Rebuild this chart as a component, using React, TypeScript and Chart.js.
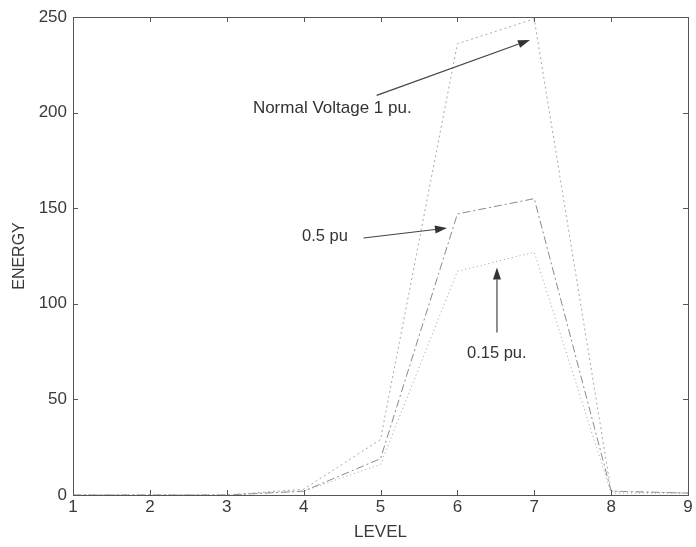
import React, { useEffect, useRef } from "react";
import { Chart, registerables } from "chart.js";

Chart.register(...registerables);

// ---- data ----
const levels = [1, 2, 3, 4, 5, 6, 7, 8, 9];
const normalVoltage = [0, 0, 0, 3, 29, 236, 249, 2, 1];
const halfPu = [0, 0, 0, 2, 19, 147, 155, 2, 1];
const lowPu = [0, 0, 0, 2, 16, 117, 127, 1, 1];
const xTickValues = [1, 2, 3, 4, 5, 6, 7, 8, 9];
const yTickValues = [0, 50, 100, 150, 200, 250];

const noteTexts = ["Normal Voltage 1 pu.", "0.5 pu", "0.15 pu."];
const noteTextPos = [
  [3.34, 202],
  [3.98, 135],
  [6.125, 74],
];
const noteArrowFrom = [
  [4.95, 209],
  [4.78, 134.4],
  [6.515, 85],
];
const noteArrowTo = [
  [6.945, 238],
  [5.865, 139.6],
  [6.515, 119],
];
const noteSizes = [17, 16.5, 16.5];

const FONT = "'Liberation Sans', Arial, Helvetica, sans-serif";

const framePlugin = {
  id: "framePlugin",
  afterDraw(chart: any) {
    const { ctx, chartArea } = chart;
    const xs = chart.scales.x;
    const ys = chart.scales.y;
    const { left, right, top, bottom } = chartArea;
    ctx.save();
    ctx.strokeStyle = "#555";
    ctx.lineWidth = 1;
    ctx.setLineDash([]);
    ctx.strokeRect(Math.round(left) + 0.5, Math.round(top) + 0.5, Math.round(right - left), Math.round(bottom - top));
    const tl = 5;
    ctx.beginPath();
    xTickValues.forEach((v) => {
      const px = Math.round(xs.getPixelForValue(v)) + 0.5;
      ctx.moveTo(px, bottom);
      ctx.lineTo(px, bottom - tl);
      ctx.moveTo(px, top);
      ctx.lineTo(px, top + tl);
    });
    yTickValues.forEach((v) => {
      const py = Math.round(ys.getPixelForValue(v)) + 0.5;
      ctx.moveTo(left, py);
      ctx.lineTo(left + tl, py);
      ctx.moveTo(right, py);
      ctx.lineTo(right - tl, py);
    });
    ctx.stroke();

    // annotations
    noteTexts.forEach((t, i) => {
      const fx = xs.getPixelForValue(noteArrowFrom[i][0]);
      const fy = ys.getPixelForValue(noteArrowFrom[i][1]);
      const tx = xs.getPixelForValue(noteArrowTo[i][0]);
      const ty = ys.getPixelForValue(noteArrowTo[i][1]);
      const ang = Math.atan2(ty - fy, tx - fx);
      const hl = 12;
      const hw = 4;
      ctx.strokeStyle = "#444";
      ctx.lineWidth = 1.2;
      ctx.beginPath();
      ctx.moveTo(fx, fy);
      ctx.lineTo(tx - hl * Math.cos(ang), ty - hl * Math.sin(ang));
      ctx.stroke();
      ctx.fillStyle = "#333";
      ctx.beginPath();
      ctx.moveTo(tx, ty);
      ctx.lineTo(tx - hl * Math.cos(ang) + hw * Math.sin(ang), ty - hl * Math.sin(ang) - hw * Math.cos(ang));
      ctx.lineTo(tx - hl * Math.cos(ang) - hw * Math.sin(ang), ty - hl * Math.sin(ang) + hw * Math.cos(ang));
      ctx.closePath();
      ctx.fill();

      ctx.fillStyle = "#333";
      ctx.font = `${noteSizes[i]}px ${FONT}`;
      ctx.textAlign = "left";
      ctx.textBaseline = "middle";
      ctx.fillText(t, xs.getPixelForValue(noteTextPos[i][0]), ys.getPixelForValue(noteTextPos[i][1]));
    });
    ctx.restore();
  },
};

export default function App() {
  const ref = useRef<HTMLCanvasElement | null>(null);
  useEffect(() => {
    if (!ref.current) return;
    const toPts = (arr: number[]) => levels.map((l, i) => ({ x: l, y: arr[i] }));
    const chart = new Chart(ref.current, {
      type: "line",
      data: {
        datasets: [
          {
            label: "Normal Voltage 1 pu.",
            data: toPts(normalVoltage),
            borderColor: "#a8a8a8",
            borderWidth: 1,
            borderDash: [2, 3],
            pointRadius: 0,
            tension: 0,
          },
          {
            label: "0.5 pu",
            data: toPts(halfPu),
            borderColor: "#8a8a8a",
            borderWidth: 1,
            borderDash: [8, 3, 2, 3],
            pointRadius: 0,
            tension: 0,
          },
          {
            label: "0.15 pu.",
            data: toPts(lowPu),
            borderColor: "#a0a0a0",
            borderWidth: 1,
            borderDash: [1, 3],
            pointRadius: 0,
            tension: 0,
          },
        ],
      },
      options: {
        responsive: false,
        animation: false,
        layout: { padding: { top: 17, right: 8, left: 0, bottom: 0 } },
        plugins: { legend: { display: false }, tooltip: { enabled: false } },
        scales: {
          x: {
            type: "linear",
            min: 1,
            max: 9,
            afterFit: (s: any) => {
              s.height = 52;
            },
            grid: { display: false, drawTicks: false },
            border: { display: false },
            ticks: {
              stepSize: 1,
              padding: 2,
              color: "#3a3a3a",
              font: { family: FONT, size: 17 },
            },
            title: {
              display: true,
              text: "LEVEL",
              color: "#3a3a3a",
              font: { family: FONT, size: 17 },
              padding: { top: 0, bottom: 4 },
            },
          },
          y: {
            type: "linear",
            min: 0,
            max: 250,
            afterFit: (s: any) => {
              s.width = 73;
            },
            grid: { display: false, drawTicks: false },
            border: { display: false },
            ticks: {
              stepSize: 50,
              padding: 6,
              color: "#3a3a3a",
              font: { family: FONT, size: 17 },
            },
            title: {
              display: true,
              text: "ENERGY",
              color: "#3a3a3a",
              font: { family: FONT, size: 16 },
              padding: { top: 10, bottom: 0 },
            },
          },
        },
      },
      plugins: [framePlugin],
    });
    return () => chart.destroy();
  }, []);
  return (
    <div style={{ position: "absolute", left: 0, top: 0, width: 696, height: 547, background: "#fff" }}>
      <canvas ref={ref} width={696} height={547} />
    </div>
  );
}
